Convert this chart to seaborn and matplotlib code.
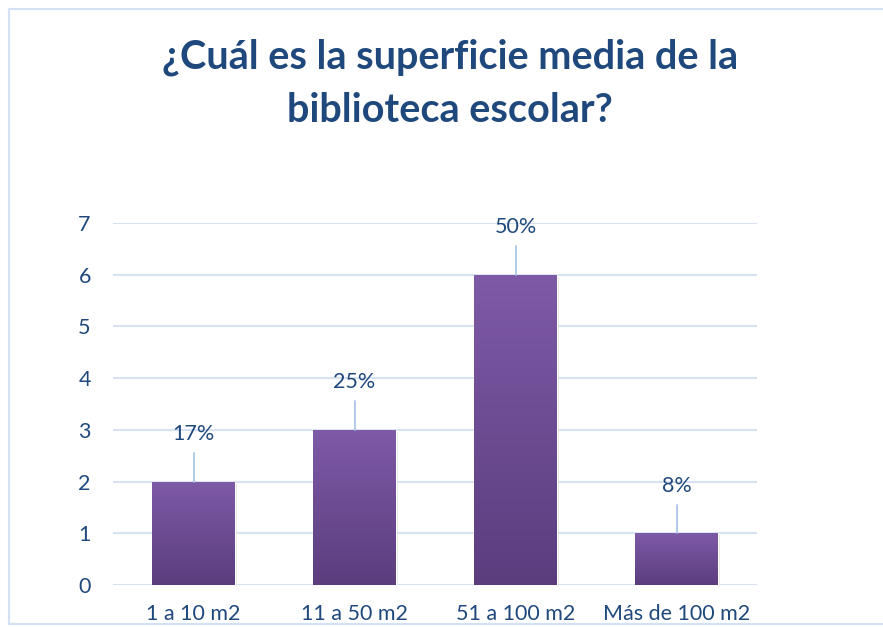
import numpy as np
import pandas as pd
import seaborn as sns
import matplotlib.pyplot as plt
from matplotlib.colors import LinearSegmentedColormap
from matplotlib.lines import Line2D

# Chart data
categories = ['1 a 10 m2', '11 a 50 m2', '51 a 100 m2', 'Más de 100 m2']
counts = [2, 3, 6, 1]
pct_labels = ['17%', '25%', '50%', '8%']
y_ticks = [0, 1, 2, 3, 4, 5, 6, 7]

df = pd.DataFrame({'superficie': categories, 'n': counts})

text_color = '#1f497d'
grid_color = '#d6e2f1'
border_color = '#d2e1f4'

sns.set_style('white')
plt.rcParams['font.family'] = ['Lato', 'DejaVu Sans']

fig = plt.figure(figsize=(8.83, 6.27), dpi=100)
ax = fig.add_axes([113 / 883, 1 - 585 / 627, 644 / 883, 362 / 627])

sns.barplot(data=df, x='superficie', y='n', color='#7a56a0', width=0.51,
            saturation=1, ax=ax, zorder=3)

# purple vertical gradient inside each bar
grad = LinearSegmentedColormap.from_list('bar', ['#5b3d7e', '#7f5aa7'])
gimg = np.linspace(0, 1, 256).reshape(-1, 1)
for p in ax.patches:
    x0, y0 = p.get_x(), p.get_y()
    w, h = p.get_width(), p.get_height()
    # soft shadow
    ax.add_patch(plt.Rectangle((x0 + 0.015, y0 - 0.04), w, h, color='#cccccc',
                               alpha=0.5, zorder=2, lw=0))
    im = ax.imshow(gimg, cmap=grad, origin='lower', aspect='auto',
                   extent=(x0, x0 + w, y0, y0 + h), zorder=4)
    im.set_clip_path(p)

# data labels with leader lines
for i, (v, lab) in enumerate(zip(counts, pct_labels)):
    ax.plot([i, i], [v, v + 0.55], color='#a9c6e8', lw=1.3, zorder=5,
            clip_on=False)
    ax.text(i, v + 0.92, lab, ha='center', va='center', fontsize=15.5,
            color=text_color, zorder=6, clip_on=False)

ax.set_ylim(0, 7)
ax.set_xlim(-0.5, 3.5)
ax.set_yticks(y_ticks)
ax.yaxis.grid(True, color=grid_color, lw=1.5, zorder=0)
ax.set_axisbelow(True)
for s in ax.spines.values():
    s.set_visible(False)
ax.set_xlabel('')
ax.set_ylabel('')
ax.tick_params(axis='both', length=0, labelsize=15.5, colors=text_color)
ax.tick_params(axis='y', pad=16)
ax.tick_params(axis='x', pad=14)

fig.text(450 / 883, 1 - 84 / 627,
         '¿Cuál es la superficie media de la\nbiblioteca escolar?',
         ha='center', va='center', fontsize=28.5, fontweight='bold',
         color=text_color, linespacing=1.52)

# outer chart border
for xs, ys in [([9, 9], [9, 624]), ([9, 883], [9, 9]), ([9, 883], [624, 624])]:
    fig.add_artist(Line2D([x / 883 for x in xs], [1 - y / 627 for y in ys],
                          color=border_color, lw=1.5))

plt.savefig('out.png', dpi=100)
